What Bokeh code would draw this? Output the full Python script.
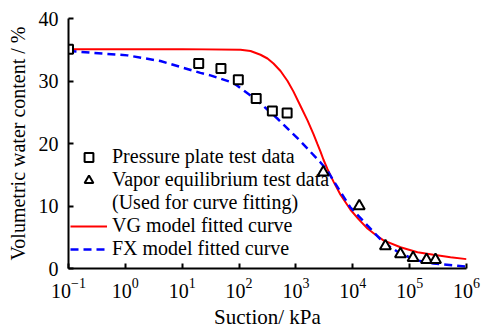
from bokeh.plotting import figure
from bokeh.models import FixedTicker, LogTickFormatter, Legend, LegendItem
from bokeh.embed import file_html
from bokeh.resources import INLINE

# ---- data ----
x_ticks = [0.1, 1, 10, 100, 1000, 10000, 100000, 1000000]
y_ticks = [0, 10, 20, 30, 40]

pp_suction = [0.1, 19.5, 48, 97, 200, 385, 700]
pp_theta = [35.1, 32.8, 32.0, 30.2, 27.2, 25.2, 24.9]

ve_suction = [3030, 13000, 37500, 69000, 115000, 198000, 285000]
ve_theta = [15.4, 10.0, 3.6, 2.3, 1.7, 1.4, 1.4]

vg_suction = [0.1, 1, 10, 106, 159, 238, 316, 403, 536, 712, 906, 1203, 1597,
              2036, 2393, 2705, 3055, 3590, 4055, 4579, 6081, 9120, 12600,
              18140, 25100, 34700, 69000, 137400, 263000, 523000, 1000000]
vg_theta = [35.1, 35.1, 35.1, 35.0, 34.8, 34.2, 33.6, 32.8, 31.6, 30.0, 28.3,
            26.0, 23.7, 21.5, 19.9, 18.7, 17.4, 15.9, 14.9, 13.9, 11.8, 9.4,
            7.9, 6.4, 5.4, 4.5, 3.4, 2.6, 2.2, 1.8, 1.5]

fx_suction = [0.1, 1.09, 4.14, 20.9, 31.3, 79.4, 201, 471, 1194, 2685, 3565,
              4540, 9036, 17990, 34360, 68390, 136100, 260000, 1000000]
fx_theta = [34.8, 34.1, 33.2, 31.3, 30.9, 29.7, 27.0, 24.0, 20.4, 17.0, 15.7,
            14.1, 9.8, 6.9, 4.2, 2.4, 1.3, 0.8, 0.3]

labels = ["Pressure plate test data", "Vapor equilibrium test data",
          "(Used for curve fitting)", "VG model fitted curve",
          "FX model fitted curve"]

FONT = "Liberation Serif"

p = figure(frame_width=398, frame_height=250, x_axis_type="log",
           x_range=(0.1, 1e6), y_range=(0, 40),
           output_backend="svg", toolbar_location=None,
           min_border_left=68, min_border_right=15,
           min_border_top=18, min_border_bottom=64)
p.outline_line_color = None
p.grid.visible = False
p.background_fill_color = "white"

vg = p.line(vg_suction, vg_theta, line_color="#ff0000", line_width=2)
fx = p.line(fx_suction, fx_theta, line_color="#0000ff", line_width=2.5,
            line_dash="8 5")
sq = p.scatter(pp_suction, pp_theta, marker="square", size=9,
               line_color="black", line_width=2, fill_color="white")
tr = p.scatter(ve_suction, ve_theta, marker="triangle", size=11,
               line_color="black", line_width=2, fill_color="white")
dummy = p.line([], [], line_alpha=0)

for ax in (p.xaxis[0], p.yaxis[0]):
    ax.axis_line_width = 2
    ax.axis_line_color = "black"
    ax.major_tick_line_width = 2
    ax.major_tick_line_color = "black"
    ax.major_tick_in = 5
    ax.major_tick_out = 0
    ax.minor_tick_line_color = None
    ax.major_label_text_font = FONT
    ax.major_label_text_font_size = "20px"
    ax.major_label_text_color = "black"
    ax.axis_label_text_font = FONT
    ax.axis_label_text_font_style = "normal"
    ax.axis_label_text_color = "black"

p.xaxis.ticker = FixedTicker(ticks=x_ticks)
p.xaxis.formatter = LogTickFormatter()
p.xaxis.major_label_standoff = 9
p.xaxis.axis_label = "Suction/ kPa"
p.xaxis.axis_label_text_font_size = "21px"
p.xaxis.axis_label_standoff = 4

p.yaxis.ticker = FixedTicker(ticks=y_ticks)
p.yaxis.major_label_standoff = 10
p.yaxis.axis_label = "Volumetric water content / %"
p.yaxis.axis_label_text_font_size = "20px"
p.yaxis.axis_label_standoff = 7

legend = Legend(items=[
    LegendItem(label=labels[0], renderers=[sq]),
    LegendItem(label=labels[1], renderers=[tr]),
    LegendItem(label=labels[2], renderers=[dummy]),
    LegendItem(label=labels[3], renderers=[vg]),
    LegendItem(label=labels[4], renderers=[fx]),
], location=(2, 8), padding=0, margin=0, spacing=0,
   glyph_width=37, glyph_height=22, label_height=22, label_standoff=5,
   label_text_font=FONT, label_text_font_size="20px",
   label_text_color="black", background_fill_alpha=0,
   border_line_alpha=0)
p.add_layout(legend)

open("out.html", "w").write(file_html(p, INLINE))
